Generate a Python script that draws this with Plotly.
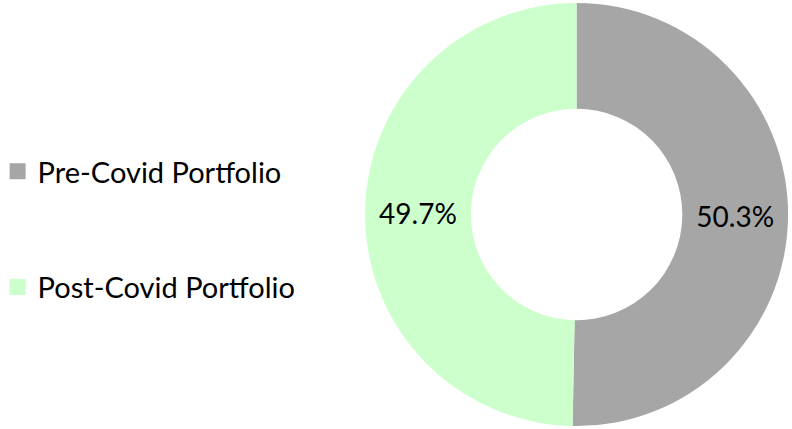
import plotly.graph_objects as go

labels = ["Pre-Covid Portfolio", "Post-Covid Portfolio"]
values = [50.3, 49.7]
colors = ["#A6A6A6", "#CCFFCC"]

FONT = "Lato, 'Open Sans', sans-serif"

fig = go.Figure()

fig.add_trace(go.Pie(
    labels=labels,
    values=values,
    hole=0.5,
    sort=False,
    direction="clockwise",
    rotation=0,
    marker=dict(colors=colors, line=dict(width=0)),
    textinfo="percent",
    texttemplate="%{percent:.1%}",
    textposition="inside",
    insidetextorientation="horizontal",
    textfont=dict(family=FONT, size=28, color="#000000"),
    domain=dict(x=[0.458, 0.998], y=[0.007, 0.993]),
    showlegend=False,
    hoverinfo="label+percent",
))

# legend entries (pie legend can't be spaced this far apart)
for i, (lab, col) in enumerate(zip(labels, colors)):
    fig.add_trace(go.Scatter(
        x=[None], y=[None],
        mode="markers",
        name=lab,
        legendgroup=f"g{i}",
        marker=dict(symbol="square", size=18, color=col),
        showlegend=True,
    ))

fig.update_layout(
    width=792,
    height=429,
    margin=dict(t=0, b=0, l=0, r=0, autoexpand=False),
    paper_bgcolor="#FFFFFF",
    plot_bgcolor="#FFFFFF",
    legend=dict(
        x=-0.003, xanchor="left",
        y=0.66, yanchor="top",
        font=dict(family=FONT, size=29, color="#000000"),
        tracegroupgap=75,
        itemclick=False,
        bgcolor="rgba(0,0,0,0)",
    ),
)
fig.update_xaxes(visible=False, showgrid=False, zeroline=False)
fig.update_yaxes(visible=False, showgrid=False, zeroline=False)

# drop the browser's default 8px body margin so the figure sits at 0,0
fig.write_html(
    "out.html",
    config={"displayModeBar": False},
    post_script="document.body.style.margin='0';",
)
